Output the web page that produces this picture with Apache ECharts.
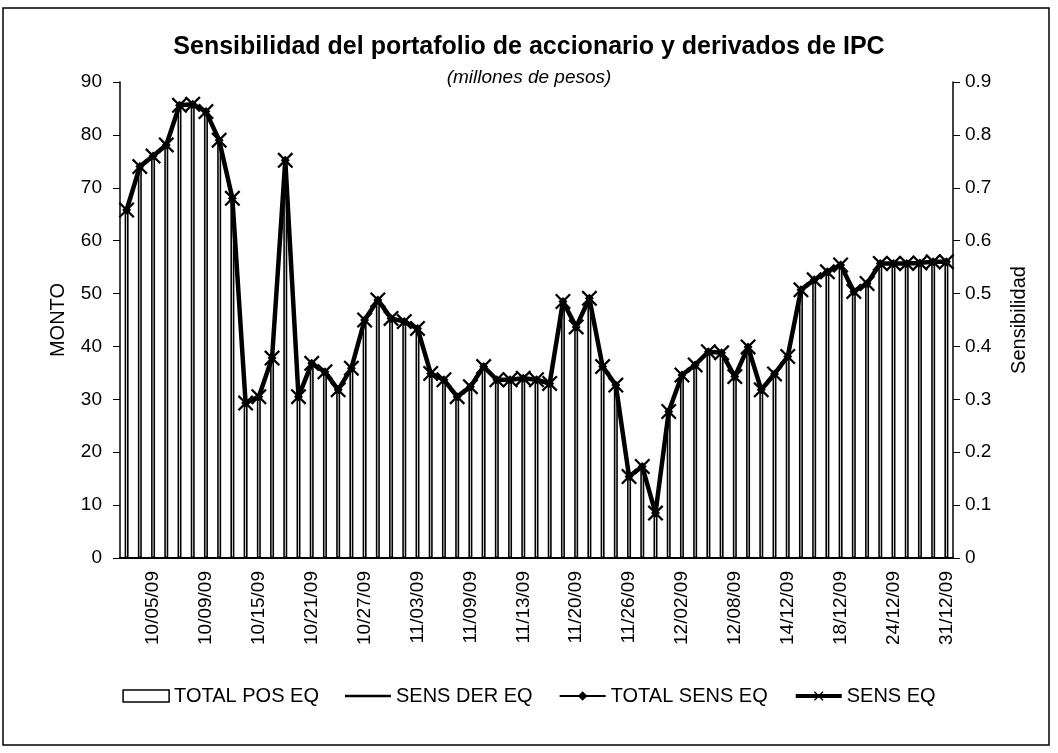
<!DOCTYPE html>
<html>
<head>
<meta charset="utf-8">
<script src="https://cdn.jsdelivr.net/npm/echarts@6/dist/echarts.min.js"></script>
<style>
  html, body { margin: 0; padding: 0; background: #fff; }
  #chart { width: 1058px; height: 753px; }
</style>
</head>
<body>
<div id="chart"></div>
<script>
const dates = [
  '10/01/09', '10/02/09', '10/05/09', '10/06/09', '10/07/09', '10/08/09', '10/09/09', '10/12/09',
  '10/13/09', '10/14/09', '10/15/09', '10/16/09', '10/19/09', '10/20/09', '10/21/09', '10/22/09',
  '10/23/09', '10/26/09', '10/27/09', '10/28/09', '10/29/09', '10/30/09', '11/03/09', '11/04/09',
  '11/05/09', '11/06/09', '11/09/09', '11/10/09', '11/11/09', '11/12/09', '11/13/09', '11/17/09',
  '11/18/09', '11/19/09', '11/20/09', '11/23/09', '11/24/09', '11/25/09', '11/26/09', '11/27/09',
  '11/30/09', '12/01/09', '12/02/09', '12/03/09', '12/04/09', '12/07/09', '12/08/09', '09/12/09',
  '10/12/09', '11/12/09', '14/12/09', '15/12/09', '16/12/09', '17/12/09', '18/12/09', '21/12/09',
  '22/12/09', '23/12/09', '24/12/09', '28/12/09', '29/12/09', '30/12/09', '31/12/09'
]

// millones de pesos (eje izquierdo)
const totalPosEq = [
  65.8, 74.0, 76.0, 78.1, 85.6, 85.8, 84.4, 79.0, 68.0, 29.3,
  30.5, 37.8, 75.2, 30.5, 36.8, 35.2, 31.8, 35.9, 45.0, 48.8,
  45.3, 44.7, 43.4, 34.9, 33.7, 30.5, 32.4, 36.2, 33.7, 33.7,
  34.0, 33.7, 33.0, 48.5, 43.7, 49.1, 36.2, 32.7, 15.4, 17.3,
  8.5, 27.7, 34.6, 36.5, 39.0, 38.8, 34.3, 39.9, 31.8, 34.8,
  38.1, 50.7, 52.6, 54.1, 55.4, 50.4, 51.9, 55.7, 55.7, 55.7,
  55.8, 56.0, 56.0
]

// sensibilidad (eje derecho)
const sensDerEq = [
  0, 0, 0, 0, 0, 0, 0, 0, 0, 0,
  0, 0, 0, 0, 0, 0, 0, 0, 0, 0,
  0, 0, 0, 0, 0, 0, 0, 0, 0, 0,
  0, 0, 0, 0, 0, 0, 0, 0, 0, 0,
  0, 0, 0, 0, 0, 0, 0, 0, 0, 0,
  0, 0, 0, 0, 0, 0, 0, 0, 0, 0,
  0, 0, 0
]

const totalSensEq = [
  0.658, 0.740, 0.760, 0.781, 0.856, 0.858, 0.844, 0.790, 0.680, 0.293,
  0.305, 0.378, 0.752, 0.305, 0.368, 0.352, 0.318, 0.359, 0.450, 0.488,
  0.453, 0.447, 0.434, 0.349, 0.337, 0.305, 0.324, 0.362, 0.337, 0.337,
  0.340, 0.337, 0.330, 0.485, 0.437, 0.491, 0.362, 0.327, 0.154, 0.173,
  0.085, 0.277, 0.346, 0.365, 0.390, 0.388, 0.343, 0.399, 0.318, 0.348,
  0.381, 0.507, 0.526, 0.541, 0.554, 0.504, 0.519, 0.557, 0.557, 0.557,
  0.558, 0.560, 0.560
]

const sensEq = [
  0.658, 0.740, 0.760, 0.781, 0.856, 0.858, 0.844, 0.790, 0.680, 0.293,
  0.305, 0.378, 0.752, 0.305, 0.368, 0.352, 0.318, 0.359, 0.450, 0.488,
  0.453, 0.447, 0.434, 0.349, 0.337, 0.305, 0.324, 0.362, 0.337, 0.337,
  0.340, 0.337, 0.330, 0.485, 0.437, 0.491, 0.362, 0.327, 0.154, 0.173,
  0.085, 0.277, 0.346, 0.365, 0.390, 0.388, 0.343, 0.399, 0.318, 0.348,
  0.381, 0.507, 0.526, 0.541, 0.554, 0.504, 0.519, 0.557, 0.557, 0.557,
  0.558, 0.560, 0.560
]

const leftTicks = { min: 0, max: 90, interval: 10 }
const rightTicks = { min: 0, max: 0.9, interval: 0.1 }

const font = 'Liberation Sans, Arial, sans-serif'
const crossSymbol = 'path://M0,1 L1,0 L5,4 L9,0 L10,1 L6,5 L10,9 L9,10 L5,6 L1,10 L0,9 L4,5 Z'
const thinLine = 'path://M0,0 L40,0 L40,2 L0,2 Z'

const chart = echarts.init(document.getElementById('chart'))

const option = {
  backgroundColor: '#fff',
  animation: false,
  graphic: [
    {
      type: 'rect',
      z: -10,
      shape: { x: 3, y: 8, width: 1046, height: 737 },
      style: { fill: 'none', stroke: '#000', lineWidth: 1.5 }
    }
  ],
  title: [
    {
      text: 'Sensibilidad del portafolio de accionario y derivados de IPC',
      left: 'center',
      top: 30,
      textStyle: { fontFamily: font, fontWeight: 'bold', fontSize: 25, color: '#000' }
    },
    {
      text: '(millones de pesos)',
      left: 'center',
      top: 63,
      textStyle: { fontFamily: font, fontStyle: 'italic', fontWeight: 'normal', fontSize: 19, color: '#000' }
    }
  ],
  legend: {
    top: 681,
    left: 'center',
    itemWidth: 46,
    itemHeight: 12,
    itemGap: 26,
    textStyle: { fontFamily: font, fontSize: 20, color: '#000' },
    data: [
      { name: 'TOTAL POS EQ', icon: 'rect', itemStyle: { color: '#fff', borderColor: '#000', borderWidth: 1.5 } },
      { name: 'SENS DER EQ', icon: thinLine, itemStyle: { color: '#000' } },
      { name: 'TOTAL SENS EQ', lineStyle: { width: 2 } },
      { name: 'SENS EQ', lineStyle: { width: 4 } }
    ]
  },
  grid: { left: 120, right: 105, top: 82, bottom: 195 },
  xAxis: {
    type: 'category',
    data: dates,
    boundaryGap: true,
    axisLine: { lineStyle: { color: '#000', width: 2 } },
    axisTick: { show: false },
    axisLabel: {
      interval: (i) => i % 4 === 2,
      rotate: 90,
      margin: 13,
      fontFamily: font,
      fontSize: 19,
      color: '#000'
    }
  },
  yAxis: [
    {
      type: 'value',
      name: 'MONTO',
      nameLocation: 'middle',
      nameGap: 52,
      nameRotate: 90,
      nameTextStyle: { fontFamily: font, fontSize: 20, color: '#000' },
      min: leftTicks.min,
      max: leftTicks.max,
      interval: leftTicks.interval,
      axisLine: { show: true, lineStyle: { color: '#000', width: 1.5 } },
      axisTick: { show: true, inside: false, length: 7, lineStyle: { color: '#000' } },
      axisLabel: { fontFamily: font, fontSize: 19, color: '#000', margin: 18 },
      splitLine: { show: false }
    },
    {
      type: 'value',
      name: 'Sensibilidad',
      nameLocation: 'middle',
      nameGap: 56,
      nameRotate: 90,
      nameTextStyle: { fontFamily: font, fontSize: 20, color: '#000' },
      min: rightTicks.min,
      max: rightTicks.max,
      interval: rightTicks.interval,
      axisLine: { show: true, lineStyle: { color: '#000', width: 1.5 } },
      axisTick: { show: true, inside: false, length: 7, lineStyle: { color: '#000' } },
      axisLabel: {
        fontFamily: font, fontSize: 19, color: '#000', margin: 12,
        formatter: (v) => (v === 0 ? '0' : v.toFixed(1))
      },
      splitLine: { show: false }
    }
  ],
  series: [
    {
      name: 'TOTAL POS EQ',
      type: 'bar',
      yAxisIndex: 0,
      data: totalPosEq,
      barWidth: 4,
      itemStyle: { color: '#fff', borderColor: '#000', borderWidth: 1.6 }
    },
    {
      name: 'SENS DER EQ',
      type: 'line',
      yAxisIndex: 1,
      data: sensDerEq,
      symbol: 'none',
      lineStyle: { color: '#000', width: 1.5 },
      itemStyle: { color: '#000' }
    },
    {
      name: 'TOTAL SENS EQ',
      type: 'line',
      yAxisIndex: 1,
      data: totalSensEq,
      symbol: 'diamond',
      symbolSize: 9,
      showAllSymbol: true,
      lineStyle: { color: '#000', width: 2 },
      itemStyle: { color: '#000' }
    },
    {
      name: 'SENS EQ',
      type: 'line',
      yAxisIndex: 1,
      data: sensEq,
      symbol: crossSymbol,
      symbolSize: 16,
      showAllSymbol: true,
      lineStyle: { color: '#000', width: 4.5 },
      itemStyle: { color: '#000' }
    }
  ]
}

chart.setOption(option)
</script>
</body>
</html>
